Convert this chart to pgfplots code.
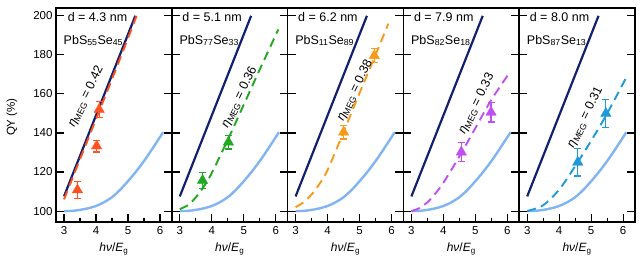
\documentclass[border=0pt]{standalone}
\usepackage{pgfplots}
\pgfplotsset{compat=1.18}
\usepackage{fontspec}
\setmainfont{Liberation Sans}
\definecolor{navy}{HTML}{12206E}
\definecolor{lblue}{HTML}{80B4F2}
\definecolor{c1}{HTML}{FF5220}
\definecolor{c2}{HTML}{22A822}
\definecolor{c3}{HTML}{F79A1A}
\definecolor{c4}{HTML}{C050F0}
\definecolor{c5}{HTML}{1E9AD8}
\tikzset{
  lab/.style={font=\fontsize{12.5}{14}\selectfont, anchor=north west, inner sep=0pt},
  eta/.style={font=\fontsize{12.5}{14}\selectfont, rotate=64},
}
\pgfplotsset{
  panel/.style={
    width=115.8pt, height=214pt, scale only axis,
    anchor=south west,
    xmin=2.75, xmax=6.37, ymin=94.4, ymax=204,
    xtick={3,4,5,6}, minor xtick={3.5,4.5,5.5},
    ytick={100,120,140,160,180,200},
    tick align=inside, xtick pos=left, ytick pos=both,
    yticklabel pos=left,
    major tick length=8pt, minor tick length=4.5pt,
    axis line style={line width=1.5pt},
    every tick/.style={black, line width=1.1pt},
    /pgf/number format/assume math mode=true,
    tick label style={font=\fontsize{11.5}{13}\selectfont},
    xticklabel style={yshift=-1pt},
    xlabel={\textit{hν}/\textit{E}\textsubscript{g}},
    xlabel style={font=\fontsize{12}{13}\selectfont, at={(axis description cs:0.5,-0.125)}, anchor=center},
    clip=false,
  },
  navyline/.style={navy, line width=2.2pt},
  lbline/.style={lblue, line width=2.4pt, smooth},
  dline/.style={line width=1.9pt, dash pattern=on 9pt off 5.5pt, smooth},
  pts/.style={only marks, mark=triangle*, mark size=6pt,
    error bars/y dir=both, error bars/y explicit,
    error bars/error bar style={line width=1.2pt},
    error bars/error mark options={rotate=90, mark size=3.5pt, line width=1.2pt}},
}
\newcommand{\common}{%
  \addplot[navyline] coordinates {(3,107.5) (5.23,200)};
  \addplot[lbline] coordinates {(3,100) (3.25,100.1) (3.5,100.6) (3.75,101.4) (4,102.6) (4.25,104.5) (4.5,107.1) (4.75,110.8) (5,115.3) (5.25,120.2) (5.5,125.6) (5.75,131.6) (6.1,140.4)};
}
\begin{document}
\begin{tikzpicture}
% Panel 1
\begin{axis}[panel, at={(0pt,0pt)}, ylabel={QY (\%)},
  ylabel style={font=\fontsize{11.5}{13}\selectfont, at={(axis description cs:-0.38,0.49)}, anchor=center, rotate=0}]
\common
\addplot[c1, dline] coordinates {(3,106) (3.5,126.5) (4,147) (4.5,167.5) (5,188.5) (5.27,200)};
\addplot[c1, pts] coordinates {(3.42,110.8) +- (0,4.5) (4.02,133.3) +- (0,3) (4.10,152) +- (0,4)};
\node[lab] at (rel axis cs:0.1,0.978) {d = 4.3 nm};
\node[lab] at (rel axis cs:0.065,0.875) {PbS\textsubscript{55}Se\textsubscript{45}};
\node[eta] at (axis cs:3.69,158.6) {\textit{η}\textsubscript{MEG} = 0.42};
\end{axis}
% Panel 2
\begin{axis}[panel, at={(115.8pt,0pt)}, yticklabels={}]
\common
\addplot[c2, dline] coordinates {(3,101) (3.25,103) (3.5,107) (3.75,112.5) (4,119.5) (4.5,136.5) (5,154.5) (5.5,172.5) (6.08,193)};
\addplot[c2, pts] coordinates {(3.71,115.7) +- (0,4) (4.52,135.3) +- (0,3.5)};
\node[lab] at (rel axis cs:0.09,0.978) {d = 5.1 nm};
\node[lab] at (rel axis cs:0.065,0.875) {PbS\textsubscript{77}Se\textsubscript{33}};
\node[eta] at (axis cs:4.87,158.3) {\textit{η}\textsubscript{MEG} = 0.36};
\end{axis}
% Panel 3
\begin{axis}[panel, at={(231.6pt,0pt)}, yticklabels={}]
\common
\addplot[c3, dline] coordinates {(3,102) (3.25,104.5) (3.5,108.5) (3.75,114) (4,121) (4.5,140.5) (5,160.5) (5.5,180) (5.9,196)};
\addplot[c3, pts] coordinates {(4.5,140.4) +- (0,3.5) (5.46,179.6) +- (0,3.5)};
\node[lab] at (rel axis cs:0.09,0.978) {d = 6.2 nm};
\node[lab] at (rel axis cs:0.065,0.875) {PbS\textsubscript{11}Se\textsubscript{89}};
\node[eta] at (axis cs:4.86,161.7) {\textit{η}\textsubscript{MEG} = 0.38};
\end{axis}
% Panel 4
\begin{axis}[panel, at={(347.4pt,0pt)}, yticklabels={}]
\common
\addplot[c4, dline] coordinates {(3,100) (3.25,101.5) (3.5,104.5) (3.75,109) (4,114.5) (4.5,128) (5,142.5) (5.5,157) (6.1,171.6)};
\addplot[c4, pts] coordinates {(4.56,130.2) +- (0,5) (5.49,150.6) +- (0,5)};
\node[lab] at (rel axis cs:0.09,0.978) {d = 7.9 nm};
\node[lab] at (rel axis cs:0.065,0.875) {PbS\textsubscript{82}Se\textsubscript{18}};
\node[eta] at (axis cs:5.04,154.9) {\textit{η}\textsubscript{MEG} = 0.33};
\end{axis}
% Panel 5
\begin{axis}[panel, at={(463.2pt,0pt)}, yticklabels={}]
\common
\addplot[c5, dline] coordinates {(3,100) (3.5,103) (4,111) (4.5,123) (5,136) (5.5,150) (6.07,167.6)};
\addplot[c5, pts] coordinates {(4.58,125) +- (0,7) (5.46,150) +- (0,7)};
\node[lab] at (rel axis cs:0.09,0.978) {d = 8.0 nm};
\node[lab] at (rel axis cs:0.065,0.875) {PbS\textsubscript{87}Se\textsubscript{13}};
\node[eta] at (axis cs:4.82,148) {\textit{η}\textsubscript{MEG} = 0.31};
\end{axis}
\pgfresetboundingbox
\path (-56pt,-36pt) rectangle (587pt,222pt);
\end{tikzpicture}
\end{document}
